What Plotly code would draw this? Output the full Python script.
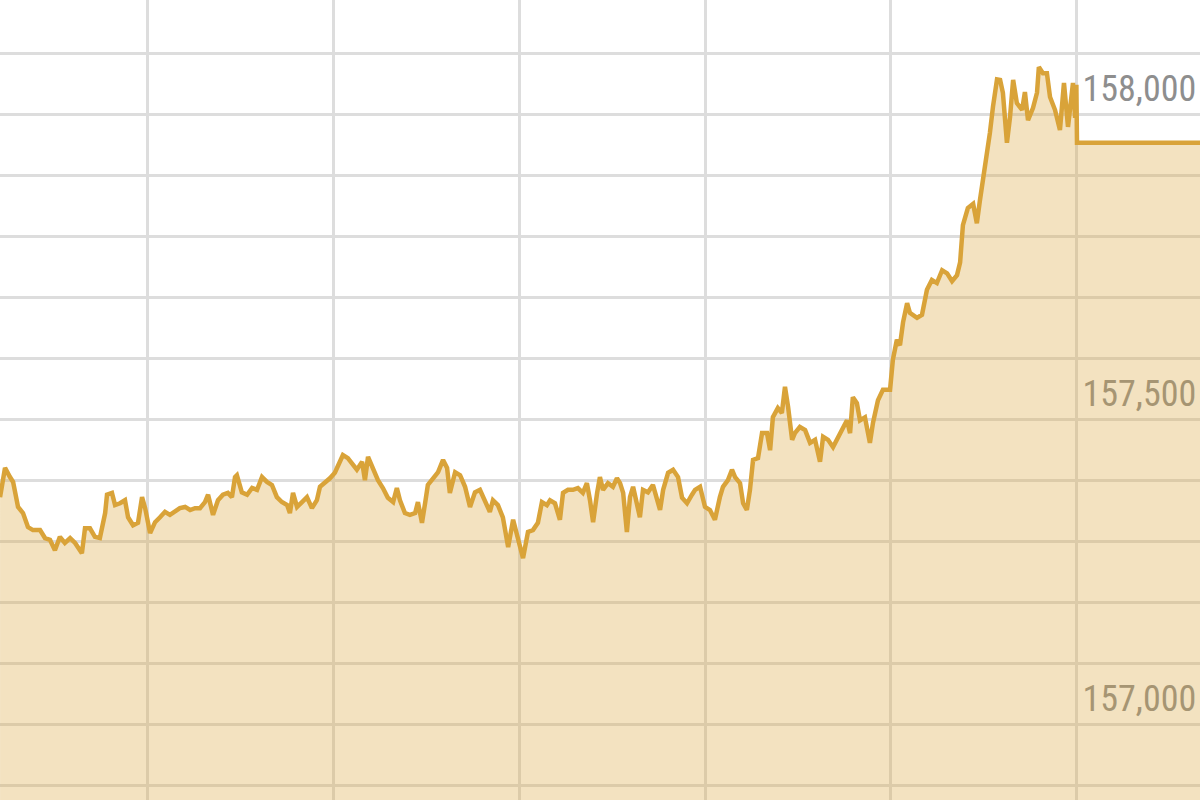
import plotly.graph_objects as go

# time in minutes (gridline every 60 min)
minutes = [
    12.6, 14.2, 15.8, 16.8, 18.4, 20.0, 21.6, 23.2, 25.5, 27.1, 28.7, 30.3, 31.9, 33.5, 35.2, 36.8,
    39.0, 40.0, 41.6, 43.2, 44.8, 46.5, 47.1, 48.7, 49.7, 51.3, 52.9, 53.9, 55.5, 57.1, 58.4, 59.4,
    61.0, 62.6, 64.2, 65.8, 67.4, 69.0, 70.6, 72.3, 73.9, 75.5, 77.1, 78.7, 79.7, 81.3, 82.9, 84.5,
    86.1, 87.4, 88.4, 89.0, 90.6, 92.3, 93.9, 95.5, 97.1, 98.7, 100.3, 101.9, 103.5, 105.2, 106.1,
    107.1, 108.4, 110.0, 111.6, 113.2, 114.8, 115.8, 117.4, 119.0, 120.6, 121.6, 123.2, 124.8, 126.1,
    127.7, 129.4, 130.3, 131.3, 132.9, 134.5, 136.1, 137.7, 139.4, 140.6, 141.6, 143.2, 144.8, 146.5,
    147.4, 148.7, 149.7, 150.6, 152.3, 153.9, 155.5, 156.8, 157.7, 159.4, 161.0, 162.6, 164.2, 165.8,
    167.4, 169.0, 170.6, 171.6, 173.2, 174.8, 176.5, 178.1, 179.7, 181.3, 182.9, 184.5, 186.1, 187.4,
    189.0, 190.0, 191.6, 193.2, 194.2, 195.8, 197.4, 199.0, 200.6, 201.9, 202.9, 203.9, 205.2, 206.1,
    207.1, 208.7, 210.3, 211.6, 212.6, 213.6, 214.8, 215.8, 216.8, 218.1, 219.0, 220.0, 221.6, 223.2,
    224.5, 225.5, 226.5, 228.1, 229.7, 231.3, 232.6, 234.2, 235.8, 236.8, 238.4, 240.0, 241.6, 243.2,
    244.8, 245.8, 247.4, 248.7, 249.7, 251.3, 252.3, 253.5, 254.5, 255.5, 257.1, 258.4, 260.0, 261.0,
    261.9, 263.5, 264.8, 265.8, 266.8, 268.1, 269.0, 270.6, 272.3, 273.9, 275.5, 277.1, 278.1, 279.7,
    281.3, 282.9, 284.5, 285.8, 286.8, 287.7, 289.0, 290.0, 291.6, 293.2, 294.2, 295.8, 297.4, 299.7,
    300.6, 301.9, 302.9, 303.9, 305.2, 306.1, 308.4, 310.0, 311.6, 313.2, 314.8, 316.5, 318.1, 319.7,
    321.3, 322.3, 323.2, 324.8, 326.5, 327.7, 328.7, 329.7, 331.0, 331.9, 332.9, 334.2, 335.2, 336.1,
    337.4, 338.4, 339.4, 340.6, 342.3, 343.2, 344.2, 345.8, 347.1, 347.7, 349.0, 350.3, 351.3, 352.9,
    354.5, 355.8, 357.1, 358.7, 359.4, 359.8, 360.0, 400.0,
]

price = [
    157372, 157420, 157405, 157397, 157356, 157346, 157323, 157318, 157318, 157305, 157302, 157285,
    157307, 157297, 157305, 157297, 157280, 157321, 157321, 157307, 157305, 157346, 157376, 157379,
    157359, 157362, 157367, 157339, 157326, 157330, 157372, 157354, 157313, 157331, 157339, 157348,
    157343, 157348, 157354, 157356, 157351, 157354, 157354, 157364, 157376, 157343, 157367, 157376,
    157379, 157372, 157405, 157408, 157380, 157376, 157387, 157384, 157405, 157397, 157392, 157372,
    157364, 157359, 157346, 157379, 157356, 157364, 157372, 157354, 157367, 157389, 157395, 157403,
    157412, 157425, 157441, 157436, 157428, 157417, 157430, 157400, 157438, 157417, 157400, 157387,
    157371, 157364, 157387, 157367, 157346, 157343, 157346, 157364, 157330, 157362, 157392, 157403,
    157413, 157433, 157420, 157379, 157413, 157408, 157389, 157356, 157380, 157384, 157367, 157348,
    157367, 157359, 157339, 157290, 157335, 157302, 157272, 157315, 157318, 157330, 157364, 157359,
    157367, 157362, 157335, 157379, 157384, 157384, 157387, 157379, 157395, 157367, 157331, 157379,
    157405, 157384, 157395, 157389, 157403, 157395, 157379, 157315, 157372, 157389, 157356, 157339,
    157384, 157380, 157392, 157371, 157351, 157384, 157412, 157417, 157405, 157371, 157362, 157376,
    157384, 157389, 157356, 157351, 157335, 157372, 157389, 157400, 157417, 157405, 157395, 157362,
    157351, 157384, 157433, 157436, 157477, 157477, 157449, 157503, 157518, 157510, 157553, 157520,
    157466, 157477, 157487, 157482, 157461, 157466, 157430, 157471, 157466, 157454, 157469, 157487,
    157498, 157477, 157536, 157526, 157498, 157503, 157461, 157494, 157531, 157548, 157548, 157597,
    157630, 157621, 157659, 157690, 157674, 157666, 157671, 157712, 157728, 157723, 157744, 157739,
    157726, 157736, 157757, 157818, 157846, 157853, 157821, 157859, 157892, 157928, 157969, 158012,
    158057, 158056, 158035, 157953, 157995, 158056, 158018, 158007, 158036, 157990, 158010, 158035,
    158077, 158067, 158067, 158028, 158007, 157974, 158051, 157979, 158051, 157994, 158048, 157953,
    157953,
]

grid_values = list(range(156900, 158200, 100))
label_values = [157000, 157500, 158000]
tick_text = [f"{v:,}" if v in label_values else "" for v in grid_values]

LINE = "#D9A339"
FILL = "rgba(219,166,58,0.32)"
GRID = "#DDDDDD"

fig = go.Figure()
fig.add_trace(go.Scatter(
    x=minutes, y=price, mode="lines",
    line=dict(color=LINE, width=4.5),
    fill="tozeroy", fillcolor=FILL,
    hoverinfo="skip", showlegend=False,
))

fig.update_layout(
    width=1200, height=800,
    margin=dict(l=0, r=0, t=0, b=0),
    paper_bgcolor="white", plot_bgcolor="white",
    xaxis=dict(
        range=[12.58, 399.68], tick0=0, dtick=60,
        showgrid=True, gridcolor=GRID, gridwidth=3,
        showticklabels=False, zeroline=False, showline=False, ticks="",
    ),
    yaxis=dict(
        range=[156875.6, 158187.0],
        tickmode="array", tickvals=grid_values, ticktext=tick_text,
        showgrid=True, gridcolor=GRID, gridwidth=3,
        zeroline=False, showline=False, ticks="",
        side="right", anchor="free", position=1077.5 / 1200,
        ticklabelposition="outside", ticklabelstandoff=4, ticklabelshift=-26,
        layer="below traces", automargin=False,
        tickfont=dict(family="Liberation Sans Narrow, Roboto Condensed, DejaVu Sans Condensed, Roboto",
                      size=36, color="#8E8E8E"),
    ),
)

fig.write_html(
    "out.html",
    config={"displayModeBar": False, "staticPlot": True},
    post_script="document.body.style.margin='0';document.body.style.overflow='hidden';",
)
